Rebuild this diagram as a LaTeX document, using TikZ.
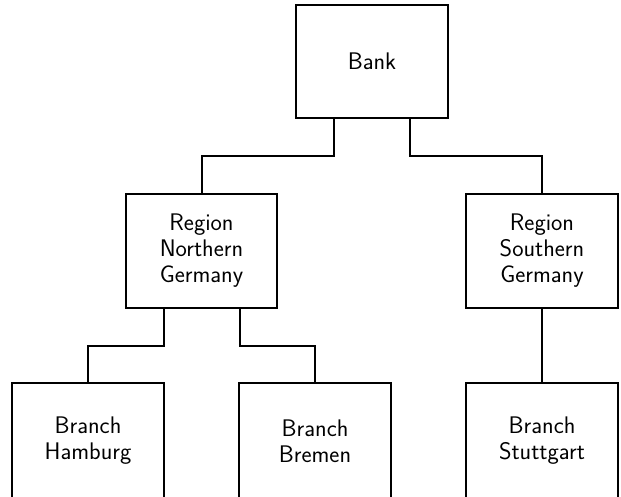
\documentclass[tikz,border=0pt]{standalone}
\usetikzlibrary{positioning}

\tikzset{
  unit/.style={draw, line width=2pt, minimum width=152pt, minimum height=113pt,
    align=center, inner sep=0pt, font=\sffamily\fontsize{24}{26}\selectfont},
  link/.style={line width=2pt}
}

\begin{document}
\begin{tikzpicture}[x=1pt,y=-1pt]
  \useasboundingbox (0,0) rectangle (621,496);

  \node[unit] (bank) at (372,61.5) {Bank};
  \node[unit, minimum width=151pt, minimum height=114pt] (north) at (201.5,251) {Region\\Northern\\Germany};
  \node[unit, minimum height=114pt] (south) at (542,251) {Region\\Southern\\Germany};
  \node[unit, minimum height=116pt] (hamburg) at (88,441) {Branch\\Hamburg};
  \node[unit, minimum height=116pt] (bremen) at (315,441) {Branch\\Bremen};
  \node[unit, minimum height=116pt] (stuttgart) at (542,441) {Branch\\Stuttgart};

  \draw[link] ([xshift=-38pt]bank.south) -- ++(0,37) -| (north.north);
  \draw[link] ([xshift=38pt]bank.south) -- ++(0,37) -| (south.north);
  \draw[link] ([xshift=-38pt]north.south) -- ++(0,37) -| (hamburg.north);
  \draw[link] ([xshift=38pt]north.south) -- ++(0,37) -| (bremen.north);
  \draw[link] (south) -- (stuttgart);
\end{tikzpicture}
\end{document}
